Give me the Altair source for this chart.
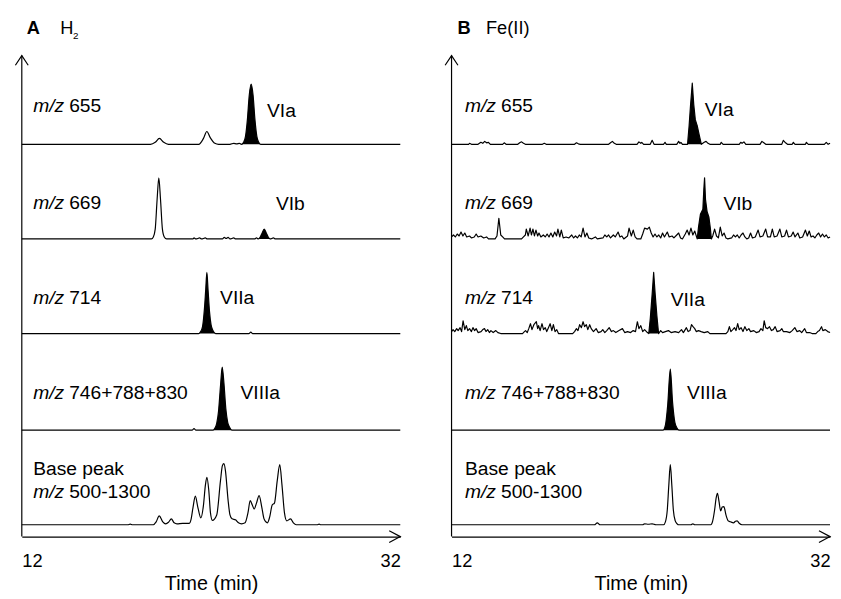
import altair as alt
import pandas as pd

FONT = "Liberation Sans"
X_DOMAIN = [12, 32]
X_TICKS = [12, 32]
Y_DOMAIN = [0, 530]
Y_AXIS_TOP = 488

# vertical stacking of the five chromatograms (layout, px above the time axis)
OFFSETS = {"655": 398, "669": 302, "714": 206, "746": 108, "bp": 12}
LABEL_DY = {"655": 39, "669": 36, "714": 36, "746": 38}
TRACE_NUMBERS = {"655": "655", "669": "669", "714": "714", "746": "746+788+830"}
BASE_PEAK_LINE1 = "Base peak"
BASE_PEAK_RANGE = "500-1300"

# ---------------- Panel A : H2 (time [min], relative intensity) ----------------
A_655 = [(12.0, 0), (18.8, 0), (19.05, 2), (19.27, 6), (19.5, 2), (19.75, 0), (21.35, 0), (21.6, 6),
         (21.78, 13), (21.95, 7), (22.2, 1), (22.4, 0), (23.0, 0), (23.2, 1), (23.35, 0.5), (23.5, 1),
         (23.6, 0), (23.72, 2), (23.82, 8), (23.92, 25), (24.02, 50), (24.12, 61), (24.22, 50),
         (24.32, 25), (24.42, 8), (24.52, 2), (24.62, 0), (32.0, 0)]
A_669 = [(12.0, 0), (18.85, 0), (18.95, 2), (19.05, 10), (19.15, 40), (19.24, 62), (19.33, 40),
         (19.43, 10), (19.53, 2), (19.65, 0), (21.05, 0), (21.1, 1), (21.2, 0), (21.4, 1), (21.5, 0),
         (21.7, 1), (21.8, 0), (22.6, 0), (22.7, 1.5), (22.8, 0.5), (22.9, 1.5), (23.0, 0), (23.2, 1),
         (23.3, 0), (24.3, 0), (24.4, 1), (24.5, 0), (24.6, 2), (24.7, 6), (24.81, 10), (24.92, 6),
         (25.02, 2), (25.12, 0), (25.3, 1), (25.4, 0), (32.0, 0)]
A_714 = [(12.0, 0), (21.35, 0), (21.45, 2), (21.55, 7), (21.65, 25), (21.72, 45), (21.78, 62),
         (21.84, 45), (21.92, 22), (22.0, 9), (22.1, 3), (22.24, 0), (24.0, 0), (24.1, 1.5),
         (24.2, 0), (32.0, 0)]
A_746 = [(12.0, 0), (21.0, 0), (21.1, 1.5), (21.2, 0), (22.1, 0), (22.2, 2), (22.3, 7), (22.4, 20),
         (22.5, 45), (22.59, 64), (22.68, 48), (22.78, 22), (22.88, 8), (22.98, 3), (23.1, 0), (32.0, 0)]
A_BP = [(12.0, 0), (17.6, 0), (17.73, 0.7), (17.85, 0), (18.95, 0), (19.1, 3), (19.26, 9), (19.45, 3),
        (19.6, 1), (19.75, 2.5), (19.9, 6), (20.05, 2), (20.2, 1), (20.5, 1.5), (20.85, 1.5),
        (20.95, 6), (21.05, 18), (21.17, 29), (21.3, 18), (21.46, 7), (21.6, 20), (21.7, 40),
        (21.78, 48), (21.88, 35), (21.97, 12), (22.07, 4.5), (22.3, 10), (22.5, 45), (22.6, 60),
        (22.68, 62), (22.76, 55), (22.9, 25), (23.0, 10), (23.11, 6), (23.29, 5), (23.45, 2),
        (23.61, 1), (23.8, 2), (23.95, 12), (24.07, 24.5), (24.18, 20), (24.28, 16), (24.4, 22),
        (24.54, 29.5), (24.68, 18), (24.8, 6), (24.98, 2), (25.1, 8), (25.23, 20), (25.35, 22),
        (25.5, 45), (25.63, 61), (25.75, 40), (25.88, 12), (26.0, 4), (26.2, 6), (26.35, 2),
        (26.5, 0), (27.6, 0), (27.71, 0.7), (27.8, 0), (32.0, 0)]
A_FILLS = {"655": (23.6, 24.62), "669": (24.5, 25.12), "714": (21.35, 22.24), "746": (22.1, 23.1)}
A_COMPOUNDS = [("VIa", 25.72, "655", 34), ("VIb", 26.19, "669", 35),
               ("VIIa", 23.38, "714", 36), ("VIIIa", 24.6, "746", 38)]

# ---------------- Panel B : Fe(II) ----------------
B_655 = [(12.0, 0), (12.9, 0), (12.95, 1), (13.05, 0), (13.4, 0), (13.55, 2), (13.65, 1), (13.75, 3),
         (13.85, 1.5), (13.95, 2), (14.05, 0), (14.7, 0), (14.78, 1.5), (14.88, 0), (15.5, 0),
         (15.6, 1.5), (15.7, 2.5), (15.8, 1), (15.9, 0), (16.8, 0), (16.9, 1), (17.0, 0), (18.5, 0),
         (18.6, 1.5), (18.7, 0.5), (18.8, 0), (20.3, 0), (20.4, 1.5), (20.5, 3), (20.6, 1), (20.7, 0),
         (21.8, 0), (21.9, 2.5), (22.0, 1), (22.05, 2), (22.15, 0), (22.5, 0), (22.6, 4), (22.7, 0),
         (23.2, 0), (23.28, 2), (23.35, 0), (23.9, 0), (24.0, 3), (24.07, 1), (24.12, 2), (24.2, 0),
         (24.47, 0), (24.55, 18), (24.63, 40), (24.72, 62), (24.8, 40), (24.88, 25), (24.98, 19),
         (25.08, 10), (25.2, 0), (25.35, 2), (25.45, 3), (25.55, 1), (25.65, 0), (26.2, 0),
         (26.25, 2), (26.35, 0), (27.2, 0), (27.28, 2), (27.35, 1), (27.45, 2.5), (27.55, 0),
         (28.3, 0), (28.4, 3), (28.5, 1.5), (28.6, 0), (29.45, 0), (29.53, 4), (29.65, 1.5),
         (29.75, 0), (30.0, 0), (30.06, 2), (30.15, 0), (30.7, 0), (30.75, 2), (30.85, 0), (31.7, 0),
         (31.8, 2), (31.9, 0), (32.0, 1)]
B_669 = [(12.0, 2), (12.1, 4), (12.2, 2), (12.3, 5), (12.4, 3), (12.5, 7), (12.6, 3), (12.7, 6),
         (12.8, 2), (12.95, 3), (13.05, 1), (13.2, 2), (13.3, 5), (13.4, 2), (13.55, 3), (13.7, 1),
         (13.85, 2), (13.95, 0), (14.3, 0), (14.4, 3), (14.5, 21), (14.6, 4), (14.7, 2), (14.8, 0),
         (15.7, 0), (15.8, 2), (15.9, 4), (15.95, 10), (16.05, 3), (16.15, 11), (16.22, 4),
         (16.3, 10), (16.38, 3), (16.46, 9), (16.55, 3), (16.62, 6), (16.72, 2), (16.85, 4),
         (16.95, 2), (17.05, 5), (17.15, 2), (17.25, 6), (17.35, 2), (17.45, 7), (17.55, 3),
         (17.62, 10), (17.72, 2), (17.8, 9), (17.9, 1), (18.05, 2), (18.2, 1), (18.35, 4), (18.45, 1),
         (18.55, 3), (18.65, 1), (18.75, 4), (18.85, 2), (18.95, 11), (19.05, 2), (19.15, 6),
         (19.25, 1), (19.4, 0), (19.6, 2), (19.7, 0), (20.0, 1), (20.1, 4), (20.2, 2), (20.3, 4),
         (20.4, 1), (20.55, 4), (20.65, 2), (20.8, 7), (20.9, 2), (21.0, 3), (21.1, 0), (21.3, 3),
         (21.38, 11), (21.5, 3), (21.6, 9), (21.7, 2), (21.8, 0), (22.0, 0), (22.1, 5), (22.2, 11),
         (22.35, 10), (22.45, 12), (22.55, 6), (22.65, 2), (22.75, 5), (22.85, 2), (22.95, 4),
         (23.05, 1), (23.15, 6), (23.25, 2), (23.4, 7), (23.5, 2), (23.65, 3), (23.75, 1), (23.9, 4),
         (24.0, 6), (24.1, 1), (24.2, 0), (24.35, 5), (24.45, 9), (24.55, 4), (24.65, 11), (24.75, 4),
         (24.85, 8), (24.98, 0), (25.05, 12), (25.15, 25), (25.28, 30), (25.33, 50), (25.37, 62),
         (25.42, 40), (25.5, 28), (25.6, 22), (25.68, 10), (25.73, 0), (25.8, 3), (25.9, 10),
         (26.0, 3), (26.1, 1), (26.2, 12), (26.3, 3), (26.4, 6), (26.5, 1), (26.6, 0), (26.8, 1),
         (26.9, 4), (27.0, 2), (27.1, 4), (27.2, 1), (27.3, 4), (27.4, 6), (27.5, 2), (27.6, 0),
         (27.7, 1), (27.8, 6), (27.9, 1), (28.05, 2), (28.2, 9), (28.3, 2), (28.45, 3), (28.6, 10),
         (28.7, 2), (28.85, 2), (28.95, 10), (29.05, 2), (29.2, 3), (29.35, 10), (29.45, 2),
         (29.6, 3), (29.7, 9), (29.8, 2), (29.95, 3), (30.05, 7), (30.15, 2), (30.3, 6), (30.4, 1),
         (30.55, 2), (30.7, 9), (30.8, 3), (30.9, 8), (31.0, 2), (31.1, 3), (31.2, 1), (31.3, 4),
         (31.4, 6), (31.5, 2), (31.6, 5), (31.7, 2), (31.8, 4), (31.9, 1), (32.0, 2)]
B_714 = [(12.0, 2), (12.08, 4), (12.17, 2), (12.27, 5), (12.35, 3), (12.45, 6), (12.53, 2), (12.61, 13),
         (12.7, 4), (12.78, 8), (12.86, 3), (12.95, 5), (13.05, 2), (13.13, 6), (13.22, 3), (13.3, 5),
         (13.4, 1), (13.56, 2), (13.65, 4), (13.74, 5), (13.82, 2), (13.91, 4), (14.0, 1), (14.08, 3),
         (14.2, 1), (14.34, 3), (14.45, 1), (14.6, 0), (15.75, 0), (15.85, 2), (15.91, 3), (16.0, 1),
         (16.08, 5), (16.17, 10), (16.25, 4), (16.35, 9), (16.48, 12), (16.55, 5), (16.6, 8),
         (16.68, 3), (16.78, 10), (16.86, 4), (16.95, 6), (17.03, 2), (17.12, 6), (17.21, 10),
         (17.3, 3), (17.38, 9), (17.47, 2), (17.56, 4), (17.65, 0), (18.4, 0), (18.5, 2), (18.6, 5),
         (18.68, 3), (18.77, 9), (18.86, 6), (18.95, 12), (19.03, 7), (19.12, 9), (19.2, 4), (19.3, 9),
         (19.38, 5), (19.5, 2), (19.64, 5), (19.75, 1), (19.9, 2), (19.99, 4), (20.1, 1), (20.2, 3),
         (20.33, 6), (20.45, 2), (20.55, 3), (20.68, 1), (20.85, 3), (21.03, 5), (21.15, 1), (21.3, 2),
         (21.46, 1), (21.6, 3), (21.72, 2), (21.82, 12), (21.9, 5), (22.0, 8), (22.1, 2), (22.2, 4),
         (22.35, 1), (22.42, 0), (22.5, 15), (22.6, 40), (22.68, 62), (22.76, 40), (22.85, 18),
         (22.94, 0), (23.05, 3), (23.15, 1), (23.3, 2), (23.46, 3), (23.6, 1), (23.81, 2), (24.0, 1),
         (24.15, 4), (24.25, 1), (24.41, 6), (24.5, 2), (24.6, 3), (24.68, 9), (24.76, 7), (24.85, 5),
         (24.93, 2), (25.05, 3), (25.19, 2), (25.35, 1), (25.54, 2), (25.65, 0), (26.5, 0), (26.6, 2),
         (26.68, 7), (26.76, 2), (26.86, 4), (26.95, 6), (27.03, 3), (27.12, 10), (27.2, 4), (27.3, 6),
         (27.4, 2), (27.5, 7), (27.6, 3), (27.71, 5), (27.8, 2), (27.97, 3), (28.1, 1), (28.25, 2),
         (28.35, 5), (28.45, 3), (28.52, 13), (28.6, 6), (28.7, 5), (28.8, 7), (28.9, 3), (29.0, 4),
         (29.1, 7), (29.2, 2), (29.36, 3), (29.45, 5), (29.53, 2), (29.7, 2), (29.88, 1), (30.0, 3),
         (30.14, 6), (30.25, 2), (30.4, 3), (30.5, 1), (30.66, 5), (30.75, 1), (30.92, 1), (31.05, 0),
         (31.25, 0), (31.35, 2), (31.44, 3), (31.55, 7), (31.62, 3), (31.75, 4), (31.88, 2), (32.0, 1)]
B_746 = [(12.0, 0), (23.18, 0), (23.3, 5), (23.42, 25), (23.56, 62), (23.68, 28), (23.8, 8),
         (23.92, 2), (24.02, 0), (32.0, 0)]
B_BP = [(12.0, 0), (19.55, 0), (19.7, 2), (19.85, 0), (22.1, 0), (22.2, 1), (22.4, 0.5), (22.6, 1),
        (22.8, 0), (23.2, 0), (23.3, 3), (23.4, 15), (23.48, 40), (23.56, 61), (23.64, 40),
        (23.72, 15), (23.82, 4), (23.92, 1), (24.0, 0), (24.65, 0), (24.75, 1), (24.85, 0),
        (25.7, 0), (25.8, 4), (25.9, 15), (25.98, 27), (26.05, 32), (26.13, 24), (26.22, 14),
        (26.3, 18), (26.39, 18.5), (26.5, 10), (26.62, 4), (26.74, 3), (26.9, 2), (27.0, 3.5),
        (27.09, 4), (27.2, 1.5), (27.35, 0), (32.0, 0)]
B_FILLS = {"655": (24.47, 25.2), "669": (24.98, 25.73), "714": (22.42, 22.94), "746": (23.18, 24.02)}
B_COMPOUNDS = [("VIa", 26.14, "655", 35), ("VIb", 27.13, "669", 35),
               ("VIIa", 24.48, "714", 34), ("VIIIa", 25.49, "746", 38)]
B_NOISY = ["655", "669", "714"]   # drawn with straight segments (spiky noise)


def x_enc():
    return alt.X("t:Q", scale=alt.Scale(domain=X_DOMAIN, nice=False, zero=False),
                 axis=alt.Axis(values=X_TICKS, format="d", title="Time (min)", ticks=False, tickSize=0,
                               grid=False, domain=True, domainColor="black", domainWidth=1.2,
                               labelFlush=True, labelPadding=15, labelFont=FONT,
                               labelFontSize=18.5, labelColor="black", titleFont=FONT,
                               titleFontSize=20, titleFontWeight="normal", titleColor="black",
                               titleY=38, titleBaseline="top"))


def y_enc(field="y:Q"):
    return alt.Y(field, scale=alt.Scale(domain=Y_DOMAIN, nice=False, zero=False), axis=None)


def text_layer(df, **kw):
    base = dict(baseline="middle", font=FONT, color="black")
    base.update(kw)
    return alt.Chart(df).mark_text(**base).encode(x=x_enc(), y=y_enc(), text="txt:N")


def panel(traces, fills, compounds, letter, cond_main, cond_sub, label_t, title_pos, linear_keys):
    rows = []
    for key, pts in traces.items():
        off = OFFSETS[key]
        for t, v in pts:
            rows.append({"trace": key, "t": t, "y": off + v, "base": off})
    df = pd.DataFrame(rows)
    fdf = pd.concat([df[(df.trace == k) & (df.t >= a) & (df.t <= b)] for k, (a, b) in fills.items()])

    trace_layers = []
    for interp, mask_df, mask_f in [
        ("monotone", df[~df.trace.isin(linear_keys)], fdf[~fdf.trace.isin(linear_keys)]),
        ("linear", df[df.trace.isin(linear_keys)], fdf[fdf.trace.isin(linear_keys)]),
    ]:
        if len(mask_f):
            trace_layers.append(alt.Chart(mask_f).mark_area(color="black", interpolate=interp).encode(
                x=x_enc(), y=y_enc(), y2="base:Q", detail="trace:N"))
        if len(mask_df):
            trace_layers.append(alt.Chart(mask_df).mark_line(
                color="black", strokeWidth=1.2, interpolate=interp, strokeJoin="round").encode(
                x=x_enc(), y=y_enc(), detail="trace:N", order="t:Q"))

    # trace labels: italic m/z + regular number
    lab = [{"t": label_t, "y": OFFSETS[k] + LABEL_DY[k], "txt": TRACE_NUMBERS[k]}
           for k in ["655", "669", "714", "746"]]
    lab.append({"t": label_t, "y": OFFSETS["bp"] + 33, "txt": BASE_PEAK_RANGE})
    ldf = pd.DataFrame(lab)
    mdf = ldf.assign(txt="m/z")
    mz = text_layer(mdf, align="left", fontSize=19.5, fontStyle="italic")
    nums = text_layer(ldf, align="left", fontSize=19.5, dx=36.5)
    bp1 = text_layer(pd.DataFrame([{"t": label_t, "y": OFFSETS["bp"] + 57, "txt": BASE_PEAK_LINE1}]),
                     align="left", fontSize=19.5)

    cdf = pd.DataFrame([{"t": t, "y": OFFSETS[k] + dy, "txt": n} for n, t, k, dy in compounds])
    comp = text_layer(cdf, align="center", fontSize=19.5)

    ax_df = pd.DataFrame({"t": [X_DOMAIN[0]], "y": [0], "y2": [Y_AXIS_TOP]})
    yaxis = alt.Chart(ax_df).mark_rule(color="black", strokeWidth=1.2).encode(
        x=x_enc(), y=y_enc(), y2="y2:Q")
    up_df = pd.DataFrame({"t": [X_DOMAIN[0]], "y": [Y_AXIS_TOP]})
    up = alt.Chart(up_df).mark_point(shape="M-1,1.5L0,0L1,1.5", size=169, filled=False, color="black",
                                     strokeWidth=1.2, opacity=1).encode(x=x_enc(), y=y_enc())
    rt_df = pd.DataFrame({"t": [X_DOMAIN[1]], "y": [0]})
    right = alt.Chart(rt_df).mark_point(shape="M-1.9,-1L0,0L-1.9,1", size=140, filled=False,
                                        color="black", strokeWidth=1.2, opacity=1).encode(
        x=x_enc(), y=y_enc())

    t_letter, t_main, t_sub = title_pos
    ttl_b = text_layer(pd.DataFrame([{"t": t_letter, "y": 516, "txt": letter}]),
                       align="left", fontSize=18.5, fontWeight="bold")
    ttl_m = text_layer(pd.DataFrame([{"t": t_main, "y": 516, "txt": cond_main}]),
                       align="left", fontSize=18.5)
    layers = [yaxis, up, right] + trace_layers + [mz, nums, bp1, comp, ttl_b, ttl_m]
    if cond_sub:
        layers.append(text_layer(pd.DataFrame([{"t": t_sub, "y": 508, "txt": cond_sub}]),
                                 align="left", fontSize=10))
    return alt.layer(*layers).properties(width=384, height=530)


pA = panel({"655": A_655, "669": A_669, "714": A_714, "746": A_746, "bp": A_BP}, A_FILLS, A_COMPOUNDS,
           "A", "H", "2", 12.6, (12.26, 14.03, 14.7), [])
pB = panel({"655": B_655, "669": B_669, "714": B_714, "746": B_746, "bp": B_BP}, B_FILLS, B_COMPOUNDS,
           "B", "Fe(II)", None, 12.71, (12.31, 13.82, None), B_NOISY)

chart = alt.hconcat(pA, pB, spacing=40, padding={"left": 5, "top": 2, "right": 0, "bottom": 0}
                    ).configure_view(strokeWidth=0)

chart.save("out.html", embed_options={"renderer": "svg", "actions": False})
